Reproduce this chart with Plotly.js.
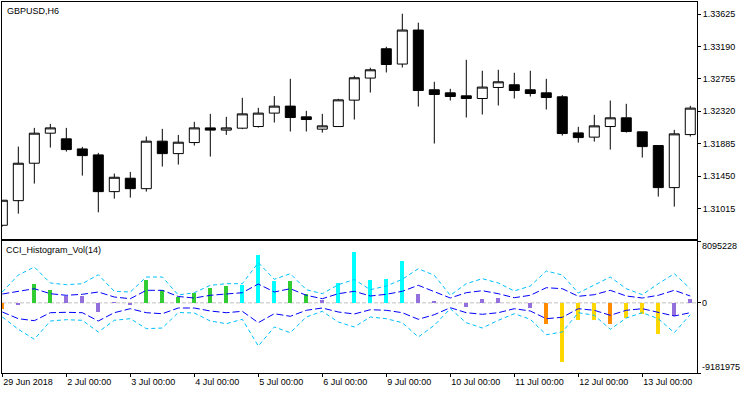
<!DOCTYPE html>
<html><head><meta charset="utf-8">
<script src="https://cdn.plot.ly/plotly-3.0.1.min.js"></script>
<style>html,body{margin:0;padding:0;background:#fff}#chart{width:750px;height:394px}</style>
</head><body><div id="chart"></div>
<script>
// ---- price data (GBPUSD, H6) ----
const barIndex = Array.from({length:44}, (_, i) => i);
const openP  = [1.30792,1.31122,1.31624,1.32027,1.31951,1.31816,1.31736,1.31243,1.31423,1.31283,1.31920,1.31753,1.31901,1.32098,1.32068,1.32094,1.32116,1.32296,1.32390,1.32246,1.32081,1.32116,1.32470,1.32766,1.33159,1.32954,1.33410,1.32609,1.32568,1.32528,1.32492,1.32640,1.32676,1.32609,1.32568,1.32515,1.32031,1.31974,1.32116,1.32233,1.32045,1.31861,1.31297,1.32008];
const highP  = [1.31128,1.31847,1.32098,1.32152,1.32098,1.31843,1.31763,1.31485,1.31508,1.31982,1.32085,1.32004,1.32179,1.32286,1.32246,1.32501,1.32367,1.32524,1.32756,1.32327,1.32286,1.32488,1.32797,1.32904,1.33186,1.33629,1.33508,1.32716,1.32622,1.33011,1.32864,1.32877,1.32837,1.32864,1.32756,1.32537,1.32112,1.32273,1.32465,1.32421,1.32045,1.31861,1.32072,1.32394];
const lowP   = [1.30776,1.30948,1.31351,1.31834,1.31780,1.31458,1.30966,1.31149,1.31163,1.31243,1.31579,1.31606,1.31861,1.31713,1.32004,1.32081,1.32102,1.32170,1.32049,1.32049,1.32035,1.32116,1.32210,1.32572,1.32841,1.32908,1.32384,1.31888,1.32465,1.32237,1.32277,1.32398,1.32492,1.32519,1.32344,1.31995,1.31901,1.31914,1.31807,1.32035,1.31700,1.31176,1.31042,1.31982];
const closeP = [1.31128,1.31624,1.32027,1.32098,1.31807,1.31726,1.31243,1.31436,1.31283,1.31920,1.31753,1.31906,1.32098,1.32068,1.32098,1.32286,1.32296,1.32390,1.32237,1.32210,1.32125,1.32474,1.32770,1.32877,1.32948,1.33410,1.32599,1.32546,1.32519,1.32492,1.32645,1.32716,1.32599,1.32559,1.32505,1.32022,1.31968,1.32125,1.32233,1.32049,1.31847,1.31297,1.32018,1.32363];

// ---- CCI_Histogram_Vol(14) ----
const histValues = [-766000,-250000,2467000,1682000,936000,936000,-1158000,111000,-242000,2991000,1682000,766000,1289000,1944000,2205000,2336000,6263000,2860000,2860000,1158000,412000,2598000,6656000,2991000,3122000,5478000,1158000,242000,0,-543000,504000,635000,0,-635000,-2729000,-7703000,-2205000,-2205000,-2729000,-1944000,-1420000,-4038000,-1682000,504000];
// colour index buffer: 0 green, 1 aqua, 2 purple, 3 orange, 4 gold
const histColorIdx = [3,2,0,0,2,2,2,2,2,0,0,0,0,0,0,1,1,1,0,0,2,1,1,1,1,1,2,2,2,2,2,2,2,2,3,4,4,4,3,4,4,4,2,2];
const innerUp = [1158000,1551000,1852000,1198000,988000,1119000,1420000,766000,543000,1643000,1643000,831000,635000,988000,1198000,1329000,2467000,1420000,1852000,988000,543000,1198000,1512000,897000,1119000,1512000,2297000,1512000,635000,1329000,1590000,1198000,674000,988000,1983000,1852000,857000,1067000,1643000,897000,635000,988000,1643000,897000];
const innerDn = [-1198000,-2075000,-2336000,-1289000,-1237000,-1289000,-2376000,-1289000,-766000,-1289000,-1420000,-674000,-674000,-1067000,-1289000,-1106000,-2598000,-1420000,-1760000,-975000,-674000,-1198000,-1459000,-897000,-975000,-1289000,-2153000,-1551000,-635000,-1289000,-1499000,-1289000,-766000,-1067000,-2075000,-1891000,-766000,-975000,-1630000,-975000,-766000,-1198000,-1721000,-1289000];
const outerUp = [1420000,3645000,4692000,2598000,2376000,2507000,3684000,1512000,1420000,3383000,3383000,1027000,1329000,2297000,2507000,2507000,5255000,3082000,3815000,1721000,1198000,2376000,3056000,1721000,2205000,3082000,4470000,3606000,988000,2507000,3161000,2598000,1551000,2205000,4169000,3645000,1289000,2297000,3383000,1852000,1067000,2507000,3815000,1852000];
const outerDn = [-1852000,-3462000,-4771000,-2376000,-2205000,-2284000,-3815000,-2284000,-2075000,-3383000,-3292000,-1263000,-1329000,-2376000,-2729000,-2153000,-5648000,-3161000,-3907000,-1852000,-1106000,-2507000,-3161000,-1852000,-2075000,-2598000,-4470000,-2938000,-766000,-2598000,-3292000,-2284000,-1420000,-2153000,-4169000,-3815000,-1289000,-1630000,-3462000,-1983000,-1289000,-2075000,-3907000,-1551000];

// ---- axis labels ----
const timeTickIdx = [0,4,8,12,16,20,24,28,32,36,40];
const timeTickLabels = ['29 Jun 2018','2 Jul 00:00','3 Jul 00:00','4 Jul 00:00','5 Jul 00:00','6 Jul 00:00','9 Jul 00:00','10 Jul 00:00','11 Jul 00:00','12 Jul 00:00','13 Jul 00:00'];
const priceTicks = [1.31015,1.31450,1.31885,1.32320,1.32755,1.33190,1.33625];
const volTicks = [8095228, 0, -9181975];

const palette = ['#32CD32','#00FFFF','#9370DB','#FF8C00','#FFD700'];
const FONT = 'Liberation Sans, Arial, sans-serif';
const xr = [-0.02, 43.42];

const traces = [
  {type:'candlestick', x:barIndex, open:openP, high:highP, low:lowP, close:closeP,
   xaxis:'x2', yaxis:'y', whiskerwidth:0, hoverinfo:'skip',
   increasing:{line:{color:'#000', width:1}, fillcolor:'#ffffff'},
   decreasing:{line:{color:'#000', width:1}, fillcolor:'#000000'}},
  {type:'bar', x:barIndex, y:histValues, xaxis:'x', yaxis:'y2', width:0.25,
   marker:{color:histColorIdx.map(c => palette[c]), line:{width:0}}},
  {type:'scatter', mode:'lines', x:barIndex, y:outerUp, xaxis:'x', yaxis:'y2', line:{color:'#00BFFF', width:1, dash:'4px,3px'}},
  {type:'scatter', mode:'lines', x:barIndex, y:outerDn, xaxis:'x', yaxis:'y2', line:{color:'#00BFFF', width:1, dash:'4px,3px'}},
  {type:'scatter', mode:'lines', x:barIndex, y:innerUp, xaxis:'x', yaxis:'y2', line:{color:'#0000FF', width:1, dash:'7px,3px'}},
  {type:'scatter', mode:'lines', x:barIndex, y:innerDn, xaxis:'x', yaxis:'y2', line:{color:'#0000FF', width:1, dash:'7px,3px'}}
];

const mainBottom = 134/371, subTop = 132/371;
const tickfont = {family:FONT, size:9, color:'#000'};

const annotations = [
  {text:'GBPUSD,H6', xref:'paper', yref:'paper', x:0, y:1, xanchor:'left', yanchor:'top', xshift:3, yshift:-2, showarrow:false, font:tickfont},
  {text:'CCI_Histogram_Vol(14)', xref:'paper', yref:'paper', x:0, y:subTop, xanchor:'left', yanchor:'top', xshift:2, yshift:-2, showarrow:false, font:tickfont}
];
const volShift = [-5, 0, 6];
volTicks.forEach((v, k) => annotations.push({text:String(v), xref:'paper', yref:'y2', x:1, y:v, xanchor:'left', yanchor:'middle', xshift:3, yshift:volShift[k], showarrow:false, font:tickfont}));

const layout = {
  width:750, height:394,
  margin:{l:2, r:53, t:2, b:21},
  paper_bgcolor:'#fff', plot_bgcolor:'#fff',
  showlegend:false, bargap:0, boxgap:0.375, boxgroupgap:0,
  xaxis:{domain:[0,1], anchor:'y2', range:xr, tickvals:timeTickIdx, ticktext:timeTickLabels,
         ticks:'outside', ticklen:3, tickcolor:'#000', tickfont:tickfont, ticklabelposition:'outside right',
         showgrid:false, zeroline:false, showline:true, linecolor:'#000', linewidth:1, mirror:true, fixedrange:true},
  xaxis2:{domain:[0,1], anchor:'y', range:xr, showticklabels:false, ticks:'', showgrid:false, zeroline:false,
          showline:true, linecolor:'#000', linewidth:1, mirror:true, rangeslider:{visible:false}},
  yaxis:{domain:[mainBottom,1], anchor:'x2', side:'right', range:[1.30608,1.33786], tickvals:priceTicks,
         tickformat:'.5f', ticks:'outside', ticklen:3, tickcolor:'#000', tickfont:tickfont,
         showgrid:false, zeroline:false, showline:true, linecolor:'#000', linewidth:1, mirror:true},
  yaxis2:{domain:[0,subTop], anchor:'x', side:'right', range:[-9181975,8095228], tickvals:volTicks,
          showticklabels:false, ticks:'outside', ticklen:3, tickcolor:'#000',
          showgrid:false, zeroline:false, showline:true, linecolor:'#000', linewidth:1, mirror:true},
  shapes:[{type:'line', xref:'paper', yref:'y2', x0:0, x1:1, y0:0, y1:0, layer:'below',
           line:{color:'#C0C0C0', width:1, dash:'4px,2px'}}],
  annotations:annotations
};

Plotly.newPlot('chart', traces, layout, {staticPlot:true, displayModeBar:false});
</script>
</body></html>
